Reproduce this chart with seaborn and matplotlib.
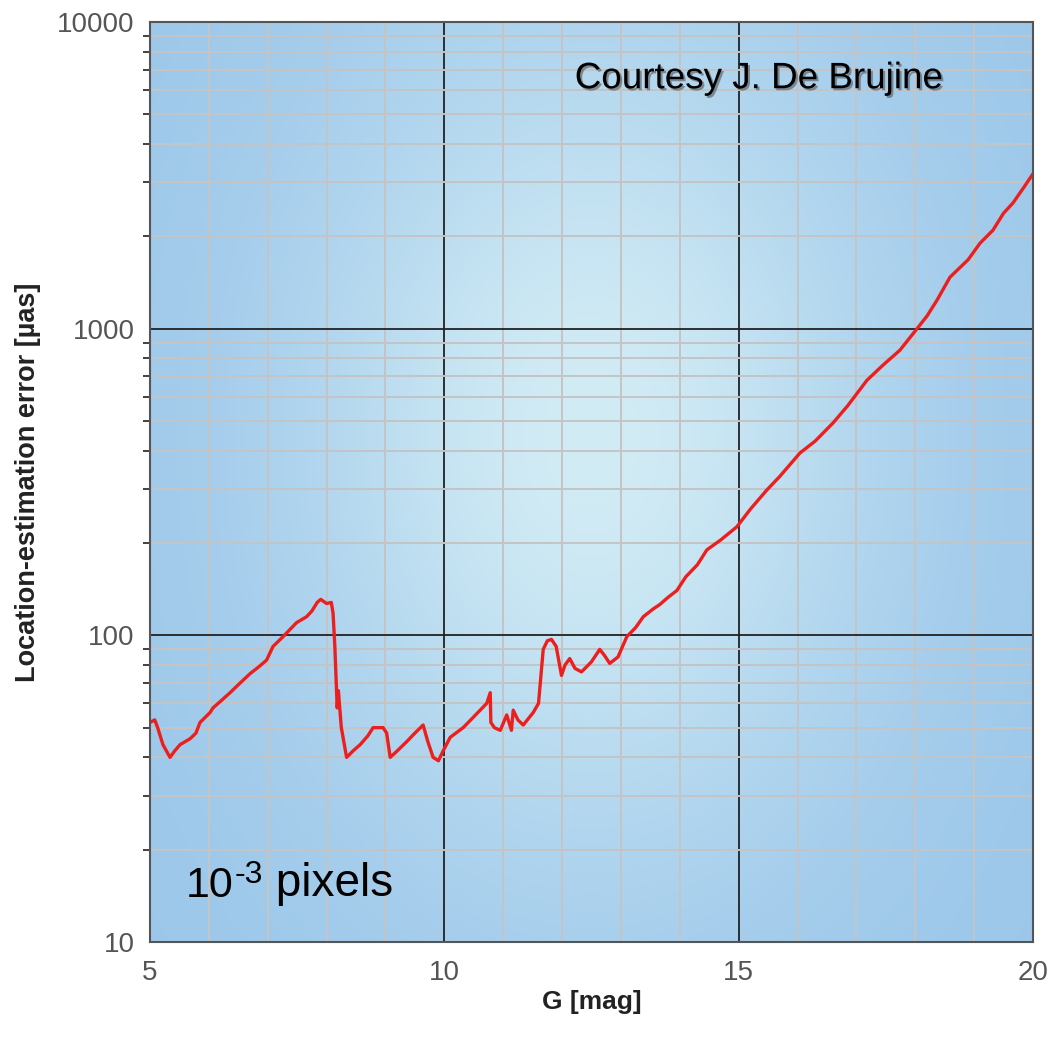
import numpy as np
import pandas as pd
import matplotlib
matplotlib.use("Agg")
import matplotlib.pyplot as plt
import matplotlib.patheffects as pe
from matplotlib.ticker import FixedLocator, LogLocator, NullFormatter
import seaborn as sns

# G magnitude vs location-estimation error (micro-arcsec)
g_mag = [5.0, 5.08, 5.13, 5.22, 5.34, 5.42, 5.51, 5.68, 5.78, 5.85, 6.02, 6.07, 6.2,
         6.36, 6.5, 6.70, 6.85, 6.98, 7.09, 7.26, 7.49, 7.66, 7.75, 7.84, 7.9, 8.0,
         8.08, 8.11, 8.14, 8.18, 8.2, 8.25, 8.34, 8.45, 8.57, 8.7, 8.79, 8.96, 9.02,
         9.08, 9.2, 9.36, 9.5, 9.64, 9.72, 9.81, 9.9, 9.98, 10.1, 10.32, 10.49, 10.72,
         10.78, 10.79, 10.85, 10.95, 11.06, 11.14, 11.17, 11.25, 11.34, 11.51, 11.6,
         11.68, 11.75, 11.82, 11.9, 11.99, 12.05, 12.13, 12.22, 12.33, 12.5, 12.64,
         12.72, 12.81, 12.95, 13.1, 13.25, 13.38, 13.55, 13.66, 13.8, 13.95, 14.1,
         14.3, 14.46, 14.7, 14.97, 15.2, 15.48, 15.7, 16.04, 16.3, 16.6, 16.85, 17.18,
         17.45, 17.74, 18.03, 18.2, 18.37, 18.59, 18.9, 19.1, 19.32, 19.5, 19.66,
         19.85, 20.0]
err_uas = [52, 53, 50, 44, 40, 42, 44, 46, 48, 52, 56, 58, 61,
           65, 69, 75, 79, 83, 92, 99, 110, 115, 120, 128, 131, 127,
           128, 118, 92, 58, 66, 50, 40, 42, 44, 47, 50, 50, 48,
           40, 42, 45, 48, 51, 45, 40, 39, 42, 46.5, 50, 54, 60,
           65, 52, 50, 49, 55, 49, 57, 53, 51, 56, 60,
           90, 96, 97, 92, 74, 80, 84, 78, 76, 82, 90,
           86, 81, 85, 99, 106, 115, 122, 126, 133, 140, 155,
           170, 190, 205, 226, 258, 298, 330, 393, 430, 492, 560, 679,
           760, 851, 1000, 1100, 1239, 1472, 1680, 1900, 2095, 2380, 2570,
           2900, 3200]

df = pd.DataFrame({"G": g_mag, "err": err_uas})

sns.set_style("white")
plt.rcParams["font.family"] = ["Liberation Sans", "DejaVu Sans"]

fig = plt.figure(figsize=(10.49, 10.46), dpi=100)
ax = fig.add_axes([150 / 1049, 1 - 942 / 1046, 883 / 1049, 920 / 1046])

ax.set_yscale("log")
ax.set_xlim(5, 20)
ax.set_ylim(10, 10000)

# radial blue background gradient
nx, ny = 300, 300
xx, yy = np.meshgrid(np.linspace(0, 1, nx), np.linspace(0, 1, ny))
f = np.exp(-(((xx - 0.5) / 0.33) ** 2 + ((yy - 0.55) / 0.45) ** 2))
edge = np.array([0x9c, 0xc7, 0xea]) / 255
center = np.array([0xd2, 0xec, 0xf5]) / 255
img = edge[None, None, :] * (1 - f[..., None]) + center[None, None, :] * f[..., None]
ax.imshow(img, extent=[0, 1, 0, 1], transform=ax.transAxes, origin="lower",
          aspect="auto", zorder=0, interpolation="bilinear")

# grid
for gx in range(6, 20):
    col, lw = ("#222222", 1.3) if gx in (10, 15) else ("#c4c4c4", 1.4)
    ax.axvline(gx, color=col, lw=lw, zorder=1)
for dec in (10, 100, 1000):
    for m in range(2, 10):
        ax.axhline(dec * m, color="#c4c4c4", lw=1.4, zorder=1)
for gy in (100, 1000):
    ax.axhline(gy, color="#222222", lw=1.3, zorder=1)

sns.lineplot(data=df, x="G", y="err", ax=ax, color="#ec1f1f", lw=2.4,
             sort=False, estimator=None, zorder=3)

ax.xaxis.set_major_locator(FixedLocator([5, 10, 15, 20]))
ax.yaxis.set_major_locator(FixedLocator([10, 100, 1000, 10000]))
ax.yaxis.set_minor_locator(LogLocator(base=10, subs=np.arange(2, 10)))
ax.yaxis.set_minor_formatter(NullFormatter())
ax.set_yticklabels(["10", "100", "1000", "10000"])
ax.tick_params(axis="both", which="major", labelsize=20, labelcolor="#555555",
               length=7, width=1.3, color="#333333", direction="out", pad=4)
ax.tick_params(axis="y", which="minor", length=5, width=1.3, color="#333333",
               left=True)
ax.tick_params(axis="x", pad=6)

for s in ax.spines.values():
    s.set_color("#555555")
    s.set_linewidth(1.5)
    s.set_visible(True)
    s.set_zorder(4)

ax.set_xlabel("G [mag]", fontsize=19, fontweight="bold", color="#222222", labelpad=3)
ax.set_ylabel("Location-estimation error [µas]", fontsize=19.5, fontweight="bold",
              color="#222222", labelpad=12)

ax.text(0.481, 0.928, "Courtesy J. De Brujine", transform=ax.transAxes,
        fontsize=26.5, color="black", va="baseline", ha="left", zorder=5,
        path_effects=[pe.withSimplePatchShadow(offset=(1.5, -1.5),
                                               shadow_rgbFace="#555555", alpha=0.6)])
t10 = ax.text(0.04, 0.049, "10", transform=ax.transAxes,
              fontsize=31, color="black", va="baseline", ha="left", zorder=5)
tsup = ax.annotate("-3", xy=(1, 1), xycoords=t10, xytext=(1, 4),
                   textcoords="offset points", fontsize=23, color="black",
                   va="top", ha="left", zorder=5)
ax.annotate(" pixels", xy=(1, 0), xycoords=(tsup, t10), xytext=(0, 0),
            textcoords="offset points", fontsize=33, color="black",
            va="bottom", ha="left", zorder=5)

fig.savefig("out.png", dpi=100)
